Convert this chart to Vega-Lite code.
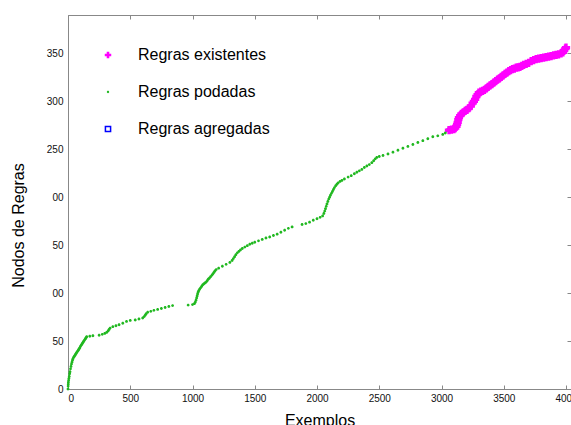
{
  "$schema": "https://vega.github.io/schema/vega-lite/v6.json",
  "width": 503,
  "height": 374,
  "autosize": {"type": "none"},
  "padding": {"left": 68, "top": 15, "right": 0, "bottom": 36},
  "background": "white",
  "config": {
    "view": {"stroke": "#888888", "strokeWidth": 1},
    "font": "Liberation Sans",
    "legend": {
      "orient": "none", "legendX": 32, "legendY": 32, "title": null, "labelFontSize": 16, "labelFont": "Liberation Sans", "labelColor": "#000000",
      "rowPadding": 21, "labelOffset": 22, "symbolSize": 42, "symbolStrokeWidth": 1.5
    },
    "axis": {
      "grid": false,
      "domainColor": "#888888",
      "tickColor": "#888888",
      "labelColor": "#111111",
      "labelFont": "Liberation Sans",
      "labelFontSize": 10,
      "titleFont": "Liberation Sans",
      "titleFontSize": 16,
      "titleFontWeight": "normal",
      "titleColor": "#000000"
    }
  },
  "datasets": {
    "podadas": [
      {"x":0,"y":0},{"x":1,"y":3},{"x":2,"y":5},{"x":3,"y":7},{"x":5,"y":9},{"x":7,"y":11},{"x":10,"y":13},{"x":13,"y":16},{"x":16,"y":18},{"x":20,"y":21},
      {"x":24,"y":23.5},{"x":28,"y":26},{"x":32,"y":28},{"x":36,"y":30},{"x":40,"y":31.5},{"x":45,"y":33},{"x":50,"y":34},{"x":55,"y":35},{"x":60,"y":36},{"x":65,"y":37},
      {"x":70,"y":38},{"x":75,"y":39},{"x":80,"y":40},{"x":85,"y":41},{"x":90,"y":42},{"x":95,"y":43},{"x":100,"y":44.5},{"x":105,"y":45.5},{"x":110,"y":46.5},{"x":115,"y":47.5},
      {"x":120,"y":48.5},{"x":125,"y":49.5},{"x":130,"y":50.5},{"x":135,"y":51.5},{"x":140,"y":52.5},{"x":145,"y":53.5},{"x":150,"y":54.5},
      {"x":175,"y":55},{"x":200,"y":55.5},{"x":250,"y":56},{"x":275,"y":57},{"x":295,"y":58},{"x":310,"y":59},{"x":322,"y":60.5},{"x":330,"y":62},{"x":338,"y":63.5},
      {"x":360,"y":65},{"x":385,"y":66},{"x":410,"y":67},{"x":440,"y":68.5},{"x":470,"y":70.5},{"x":500,"y":71.5},{"x":540,"y":72},{"x":570,"y":73},{"x":600,"y":74},
      {"x":612,"y":75.5},{"x":620,"y":77},{"x":628,"y":78.5},{"x":640,"y":80},{"x":665,"y":81},{"x":690,"y":82},{"x":720,"y":83},{"x":750,"y":84},{"x":780,"y":85},
      {"x":810,"y":86},{"x":840,"y":87},{"x":965,"y":87.5},{"x":1000,"y":88},{"x":1015,"y":89},{"x":1022,"y":90.5},{"x":1028,"y":92.5},{"x":1033,"y":95},{"x":1037,"y":97},
      {"x":1041,"y":99},{"x":1045,"y":101},{"x":1050,"y":102.5},{"x":1057,"y":104},{"x":1065,"y":105.5},{"x":1073,"y":107},{"x":1081,"y":108.5},{"x":1090,"y":109.5},
      {"x":1100,"y":110.5},{"x":1110,"y":111.5},{"x":1118,"y":113},{"x":1126,"y":114.5},{"x":1135,"y":115.5},{"x":1145,"y":117},{"x":1155,"y":118.5},{"x":1163,"y":120},
      {"x":1172,"y":121.5},{"x":1180,"y":123},{"x":1190,"y":124.5},{"x":1210,"y":126},{"x":1240,"y":128},{"x":1270,"y":130},{"x":1300,"y":132},{"x":1318,"y":134},
      {"x":1328,"y":136},{"x":1338,"y":138},{"x":1348,"y":140},{"x":1360,"y":142},{"x":1372,"y":143.5},{"x":1385,"y":145},{"x":1400,"y":146.5},{"x":1420,"y":148},
      {"x":1440,"y":149.5},{"x":1460,"y":151},{"x":1480,"y":152},{"x":1500,"y":153},{"x":1530,"y":154.5},{"x":1560,"y":156},{"x":1590,"y":157.5},{"x":1620,"y":158.5},
      {"x":1650,"y":160},{"x":1680,"y":161.5},{"x":1710,"y":163.5},{"x":1740,"y":165.5},{"x":1770,"y":167.5},{"x":1800,"y":169},{"x":1880,"y":171.5},{"x":1910,"y":172.5},
      {"x":1940,"y":174},{"x":1970,"y":176},{"x":2000,"y":177.5},{"x":2025,"y":179},{"x":2045,"y":180.5},{"x":2055,"y":183},{"x":2062,"y":185.5},{"x":2068,"y":188},
      {"x":2074,"y":190.5},{"x":2080,"y":193},{"x":2087,"y":195.5},{"x":2094,"y":198},{"x":2101,"y":200},{"x":2108,"y":202},{"x":2116,"y":204},{"x":2124,"y":206},
      {"x":2132,"y":208},{"x":2140,"y":210},{"x":2150,"y":212},{"x":2160,"y":213.5},{"x":2170,"y":215},{"x":2185,"y":216.5},{"x":2200,"y":217.5},{"x":2220,"y":219},
      {"x":2250,"y":221},{"x":2275,"y":222.5},{"x":2300,"y":224.5},{"x":2320,"y":226},{"x":2340,"y":227.5},{"x":2360,"y":229},{"x":2380,"y":231},{"x":2400,"y":232.5},
      {"x":2420,"y":234},{"x":2440,"y":236},{"x":2455,"y":238},{"x":2468,"y":240},{"x":2480,"y":241.5},{"x":2500,"y":242.5},{"x":2530,"y":243.5},{"x":2570,"y":245},
      {"x":2610,"y":247},{"x":2650,"y":249},{"x":2690,"y":251},{"x":2730,"y":253},{"x":2770,"y":255},{"x":2810,"y":257},{"x":2850,"y":259},{"x":2890,"y":261},
      {"x":2930,"y":263},{"x":2970,"y":264},{"x":3010,"y":265.5},{"x":3030,"y":267},{"x":3040,"y":269},{"x":3050,"y":271}
    ],
    "existentes": [
      {"x":3060,"y":270},{"x":3080,"y":270.5},{"x":3100,"y":271},{"x":3110,"y":272},{"x":3120,"y":274},{"x":3125,"y":276},{"x":3130,"y":278},{"x":3135,"y":281},
      {"x":3140,"y":283},{"x":3150,"y":285},{"x":3160,"y":287},{"x":3175,"y":288.5},{"x":3190,"y":290},{"x":3205,"y":291},{"x":3220,"y":293},{"x":3235,"y":295},
      {"x":3250,"y":298},{"x":3260,"y":300},{"x":3270,"y":302},{"x":3280,"y":305},{"x":3290,"y":307},{"x":3300,"y":309},{"x":3315,"y":310},{"x":3330,"y":311},
      {"x":3345,"y":312},{"x":3360,"y":313.5},{"x":3375,"y":315},{"x":3390,"y":316.5},{"x":3405,"y":318},{"x":3420,"y":319.5},{"x":3435,"y":321},{"x":3450,"y":322.5},
      {"x":3465,"y":324},{"x":3480,"y":325.5},{"x":3495,"y":327},{"x":3510,"y":328.5},{"x":3525,"y":330},{"x":3540,"y":331.5},{"x":3555,"y":332.5},{"x":3570,"y":333.5},
      {"x":3585,"y":334},{"x":3600,"y":335},{"x":3615,"y":335.5},{"x":3630,"y":336},{"x":3645,"y":337},{"x":3660,"y":338},{"x":3680,"y":339},{"x":3700,"y":340},
      {"x":3720,"y":342},{"x":3740,"y":343},{"x":3760,"y":344},{"x":3780,"y":344.5},{"x":3800,"y":345},{"x":3820,"y":345.5},{"x":3840,"y":346},{"x":3860,"y":346.5},
      {"x":3880,"y":347},{"x":3900,"y":348},{"x":3920,"y":348.5},{"x":3940,"y":349},{"x":3960,"y":350},{"x":3975,"y":351},{"x":3985,"y":353},{"x":3995,"y":355},{"x":4000,"y":356}
    ]
  },
  "layer": [
    {
      "data": {"name": "podadas"},
      "mark": {"type": "point", "filled": true, "size": 64, "opacity": 1},
      "encoding": {
        "x": {"field": "x", "type": "quantitative", "scale": {"domain": [0, 4040], "nice": false, "zero": false},
              "axis": {"orient": "bottom", "title": "Exemplos", "format": "d", "values": [0,500,1000,1500,2000,2500,3000,3500,4000], "tickSize": -4, "labelPadding": 8, "domain": true, "titleY": 36, "titleBaseline": "alphabetic"}},
        "y": {"field": "y", "type": "quantitative", "scale": {"domain": [0, 390], "nice": false, "zero": false},
              "axis": {"orient": "left", "title": "Nodos de Regras", "values": [0,50,100,150,200,250,300,350], "ticks": false, "labelPadding": 5, "domain": true, "titleX": -50, "titleY": 210, "titleBaseline": "middle",
                       "labelExpr": "datum.value == 100 || datum.value == 200 ? '00' : datum.value == 150 ? '50' : datum.label"}},
        "fill": {"datum": "Regras podadas", "type": "nominal",
                 "scale": {"domain": ["Regras existentes", "Regras podadas", "Regras agregadas"], "range": ["#ff00ff", "#20b820", "transparent"]}},
        "stroke": {"datum": "Regras podadas", "type": "nominal",
                   "scale": {"domain": ["Regras existentes", "Regras podadas", "Regras agregadas"], "range": ["transparent", "transparent", "#0000ff"]}},
        "shape": {"datum": "Regras podadas", "type": "nominal",
                  "scale": {"domain": ["Regras existentes", "Regras podadas", "Regras agregadas"],
                            "range": ["cross", "M-0.36,0A0.36,0.36 0 1,0 0.36,0A0.36,0.36 0 1,0 -0.36,0Z", "M-0.8,-0.8H0.8V0.8H-0.8Z"]}}
      }
    },
    {
      "data": {"name": "existentes"},
      "mark": {"type": "point", "filled": true, "size": 68, "opacity": 1},
      "encoding": {
        "x": {"field": "x", "type": "quantitative", "axis": null},
        "y": {"field": "y", "type": "quantitative", "axis": null},
        "fill": {"datum": "Regras existentes", "type": "nominal"},
        "stroke": {"datum": "Regras existentes", "type": "nominal"},
        "shape": {"datum": "Regras existentes", "type": "nominal"}
      }
    },
    {
      "data": {"name": "podadas"},
      "mark": {"type": "point", "opacity": 0},
      "encoding": {
        "x": {"field": "x", "type": "quantitative",
              "axis": {"orient": "top", "title": null, "labels": false, "domain": false, "tickSize": -4, "values": [0,500,1000,1500,2000,2500,3000,3500,4000]}},
        "y": {"field": "y", "type": "quantitative",
              "axis": {"orient": "right", "title": null, "labels": false, "domain": false, "tickSize": -4, "values": [0,50,100,150,200,250,300,350]}}
      }
    }
  ],
  "resolve": {"axis": {"x": "independent", "y": "independent"}}
}
